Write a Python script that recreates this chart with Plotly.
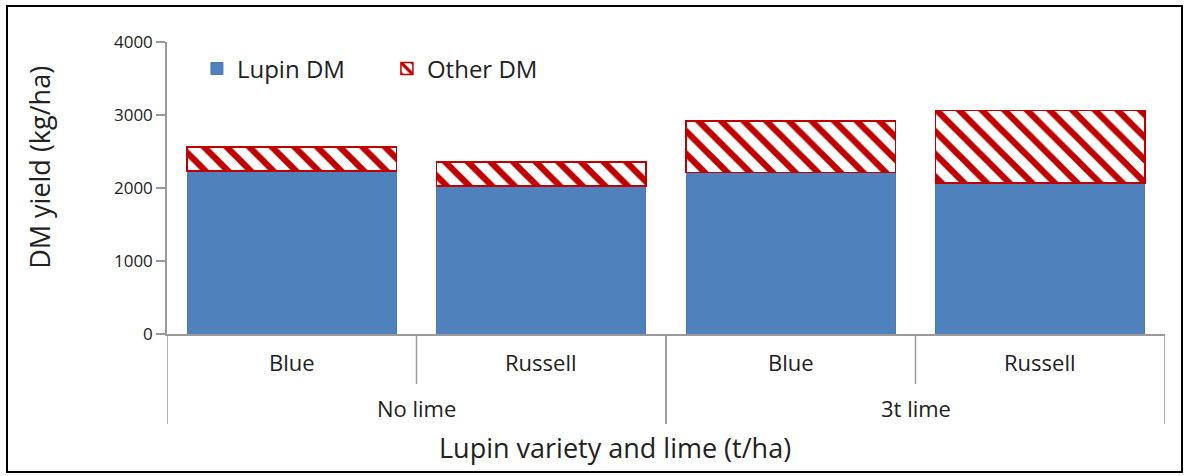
import plotly.graph_objects as go

lime = ["No lime", "No lime", "3t lime", "3t lime"]
variety = ["Blue", "Russell", "Blue", "Russell"]
lupin_dm = [2235, 2025, 2210, 2070]
other_dm = [325, 330, 705, 995]
y_ticks = [0, 1000, 2000, 3000, 4000]

cats = [f"{l}|{v}" for l, v in zip(lime, variety)]

W, H = 1187, 476
ml, mr, mt, mb = 167, 22, 42, 142
pw = W - ml - mr
ph = H - mt - mb
AX = "#9A9A9A"
FONT = "Open Sans, Lato, sans-serif"
TXT = "#222222"

fig = go.Figure()
fig.add_trace(go.Bar(
    x=cats, y=lupin_dm, name="Lupin DM",
    marker=dict(color="#4F81BD", line=dict(color="#4A7AB3", width=1)),
))
fig.add_trace(go.Bar(
    x=cats, y=other_dm, name="Other DM",
    marker=dict(color="white", line=dict(color="#C00000", width=1.5),
                pattern=dict(shape="\\", fgcolor="#C00000", bgcolor="white",
                             size=16, solidity=0.4, fgopacity=1)),
))

# outer frame
fig.add_shape(type="rect", xref="paper", yref="paper",
              x0=(7 - ml) / pw, x1=(1182 - ml) / pw,
              y0=(H - mb - 472) / ph, y1=(H - mb - 6) / ph,
              line=dict(color="black", width=2), layer="below")

# category axis: labels and dividers
n = len(cats)
for c, v in zip(cats, variety):
    fig.add_annotation(x=c, xref="x", y=0, yref="paper", yshift=-28,
                       text=v, showarrow=False, yanchor="middle",
                       font=dict(size=22, family=FONT, color=TXT))
groups = []
for i, l in enumerate(lime):
    if not groups or groups[-1][0] != l:
        groups.append([l, i, i])
    else:
        groups[-1][2] = i
for l, i0, i1 in groups:
    fig.add_annotation(x=(i0 + i1) / 2, xref="x", y=0, yref="paper", yshift=-74,
                       text=l, showarrow=False, yanchor="middle",
                       font=dict(size=22, family=FONT, color=TXT))
    for xb in (i0 - 0.5, i1 + 0.5):
        fig.add_shape(type="line", xref="x", yref="paper", x0=xb, x1=xb,
                      y0=0, y1=-90 / ph, line=dict(color=AX, width=1.5))
    for j in range(i0, i1):
        fig.add_shape(type="line", xref="x", yref="paper", x0=j + 0.5, x1=j + 0.5,
                      y0=0, y1=-50 / ph, line=dict(color=AX, width=1.5))

fig.add_annotation(x=0.449, xref="paper", y=0, yref="paper", yshift=-113,
                   text="Lupin variety and lime (t/ha)", showarrow=False,
                   xanchor="center", yanchor="middle",
                   font=dict(size=27, family=FONT, color=TXT))
fig.add_annotation(x=0, xref="paper", xshift=-127, y=0.569, yref="paper",
                   text="DM yield (kg/ha)", showarrow=False, textangle=-90,
                   xanchor="center", yanchor="middle",
                   font=dict(size=27, family=FONT, color=TXT))

fig.update_layout(
    width=W, height=H,
    margin=dict(l=ml, r=mr, t=mt, b=mb, autoexpand=False),
    barmode="stack", bargap=0.162,
    plot_bgcolor="white", paper_bgcolor="white",
    font=dict(family=FONT, size=17, color=TXT),
    showlegend=True,
    legend=dict(orientation="h", x=0.03, y=0.985, xanchor="left", yanchor="top",
                font=dict(size=24), bgcolor="rgba(0,0,0,0)", traceorder="normal",
                itemwidth=30, entrywidth=145, entrywidthmode="pixels"),
    xaxis=dict(type="category", showline=True, linecolor=AX, linewidth=1.5,
               showticklabels=False, ticks="", showgrid=False, automargin=False,
               range=[-0.5, n - 0.5]),
    yaxis=dict(range=[0, 4000], tickvals=y_ticks, showline=True, linecolor=AX,
               linewidth=1.5, ticks="outside", ticklen=9, tickcolor=AX, tickwidth=1.5,
               showgrid=False, zeroline=False, automargin=False,
               tickfont=dict(size=17)),
)
fig.write_html("out.html", post_script="document.body.style.margin='0px';",
               config={"displayModeBar": False})
